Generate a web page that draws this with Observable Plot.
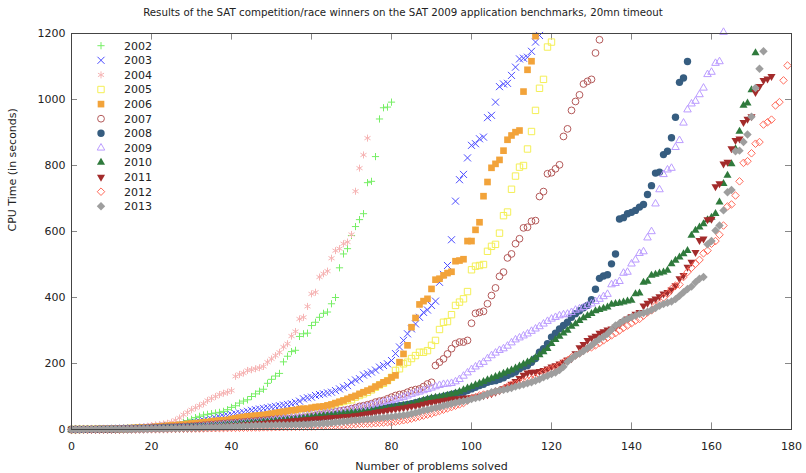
<!DOCTYPE html>
<html><head><meta charset="utf-8">
<script src="https://cdn.jsdelivr.net/npm/d3@7"></script>
<script src="https://cdn.jsdelivr.net/npm/@observablehq/plot@0.6"></script>
<style>
body{margin:0;background:#fff;font-family:"DejaVu Sans",sans-serif;}
#wrap{position:relative;width:806px;height:473px;background:#fff;}
#title{height:22px;line-height:24px;text-align:center;font-size:10.25px;color:#222;white-space:nowrap;}
</style></head><body>
<div id="wrap"><div id="title">Results of the SAT competition/race winners on the SAT 2009 application benchmarks, 20mn timeout</div><div id="chart"></div></div>
<script>
const years = [2002,2003,2004,2005,2006,2007,2008,2009,2010,2011,2012,2013];
const xTicks = [0,20,40,60,80,100,120,140,160,180];
const yTicks = [0,200,400,600,800,1000,1200];

// CPU time (s) of the i-th solved problem, i = 0..N
const t2002 = [0.05,0.1,0.2,0.3,0.4,0.5,0.6,0.8,1,1.2,1.5,
 1.8,2,2.3,2.6,3,3.5,4,4.5,5,6,
 7,8,9,10,12,14,17,22,27,31,
 36,40,44,46,48,50,52,55,60,67,
 72,80,86,90,100,108,116,122,140,152,
 162,170,205,222,236,240,282,290,292,315,
 325,340,352,356,381,400,490,532,548,588,
 615,636,654,748,752,827,941,975,977,992];
const t2003 = [0.1,0.2,0.3,0.4,0.5,0.7,0.9,1.1,1.3,1.6,
 2,2.4,2.8,3.2,3.7,4.2,5,6,7,7.5,
 8,9,10,11,12,12.5,13,14,15,17,
 19,21,24,27,29,31,34,37,40,42,
 45,48,50,52,55,58,60,62,64,66,
 68,70,72,74,76,78,82,86,93,96,
 98,103,106,108,111,113,118,123,128,133,
 143,150,154,165,169,174,180,189,194,199,
 209,230,250,270,290,305,320,340,355,362,
 376,389,446,470,497,575,692,757,773,823,
 861,866,881,886,945,952,992,1039,1047,1049,
 1073,1098,1123,1125,1128,1146,1174,1194];
const t2004 = [0.1,0.2,0.3,0.5,0.7,0.9,1.1,1.4,1.7,2,
 2,2.5,3,3.5,4,4.5,5.5,7,8,10,
 12,14,15,17,19,22,28,35,45,52,
 60,66,72,78,88,94,100,106,110,113,
 118,161,167,171,179,181,184,187,191,204,
 214,224,234,250,260,283,297,335,340,373,
 411,416,462,472,480,519,542,548,563,568,
 591,722,792,832,883];
const t2005 = [0.1,0.2,0.3,0.4,0.5,0.6,0.8,1,1.2,1.4,
 1.7,2,2.3,2.6,3,3.4,3.8,4.2,4.6,5,
 5.5,6,7,8,9,10,11,12,13,14,
 15,16,17,18,19,20,21,22,23,24,
 25,26,27,28,29,30,31,32,33,34,
 35,36,38,40,42,44,46,49,52,58,
 60,62,65,68,70,73,78,82,85,88,
 90,98,103,108,113,120,128,135,140,148,
 158,179,184,199,204,215,224,234,234,239,
 255,270,303,325,327,348,376,386,396,418,
 484,495,497,500,540,555,561,595,648,659,
 728,768,795,800,850,903,967,1034,1061,1159,1174];
const t2006 = [0.1,0.2,0.3,0.4,0.5,0.6,0.8,1,1.2,1.5,
 1.8,2.1,2.5,3,3.5,4,4.5,5,5.5,6,
 7,8,9,10,11,12,13,14,15,17,
 18,19,20,22,23,25,26,27,28,29,
 32,34,36,38,40,41,42,43,44,46,
 48,50,52,54,56,58,59,62,63,63,
 66,68,69,70,73,76,80,84,88,93,
 98,102,108,113,118,123,130,136,143,148,
 158,164,204,229,255,310,338,379,389,396,
 426,454,457,467,474,478,510,512,516,571,
 571,605,628,707,750,793,805,817,845,878,
 891,901,906,1024,1090,1116,1192];
const t2007 = [0.1,0.2,0.3,0.4,0.5,0.6,0.7,0.9,1.1,1.3,
 1.5,1.8,2.1,2.4,2.7,3,3.4,3.8,4.2,4.6,
 5,5.5,6,6.5,7,7.5,8,8.5,9,9.5,
 10,11,12,13,14,15,16,17,18,19,
 20,21,22,23,24,25,26,27,28,29,
 30,31,32,32,33,34,34,35,36,37,
 39,42,45,46,48,50,53,56,58,60,
 63,66,70,72,75,78,83,86,88,93,
 98,103,106,108,113,118,121,123,130,138,
 143,194,204,214,229,245,260,265,265,270,
 322,352,355,358,381,406,429,464,477,520,
 532,563,578,611,613,631,633,706,721,775,
 778,790,802,888,911,967,994,1014,1047,1055,1061,1141,1181];
const t2008 = [0.1,0.2,0.2,0.3,0.3,0.4,0.5,0.6,0.7,0.8,
 0.9,1,1.2,1.4,1.6,1.8,2,2.3,2.6,3,
 3.3,3.6,4,4.4,4.8,5.2,5.6,6,6.5,7,
 7.5,8,8.5,9,9.5,10,11,12,13,14,
 15,16,17,18,19,20,21,22,23,24,
 25,26,27,28,29,30,31,32,33,34,
 35,36,37,38,40,42,44,45,46,47,
 48,50,52,54,56,58,60,62,64,66,
 68,70,72,74,76,78,81,84,87,90,
 93,95,97,100,103,106,109,111,113,118,
 123,128,133,137,143,146,148,152,157,164,
 169,174,184,190,194,204,215,234,245,260,
 280,292,305,315,325,340,351,360,369,376,
 393,425,458,465,469,502,532,638,642,654,
 658,664,674,682,712,739,777,780,833,843,
 884,946,1052,1065,1115];
const t2009 = [0.1,0.2,0.2,0.3,0.3,0.4,0.4,0.5,0.6,0.7,
 0.8,0.9,1,1.1,1.2,1.4,1.6,1.8,2,2.2,
 2.5,2.8,3.1,3.4,3.7,4,4.5,5,5.5,6,
 6.5,7,8,9,10,11,12,13,14,15,
 16,17,18,19,20,21,22,23,24,25,
 27,29,30,32,33,35,36,38,40,42,
 44,45,47,48,50,51,53,55,56,58,
 60,63,65,68,70,74,77,80,83,86,
 88,91,95,98,102,107,111,114,118,122,
 126,130,134,137,138,140,145,152,162,172,
 182,190,197,204,215,224,232,240,245,253,
 263,272,278,284,290,298,305,312,320,328,
 335,340,345,348,350,355,362,366,370,376,
 381,388,395,403,410,439,443,449,474,477,
 502,514,534,539,581,600,684,727,773,787,
 792,855,876,929,969,987,995,1015,1035,1076,
 1083,1110,1115,1204];
const t2010 = [0.1,0.1,0.2,0.2,0.3,0.3,0.4,0.4,0.5,0.6,
 0.7,0.8,0.9,1,1.1,1.2,1.4,1.6,1.8,2,
 2.2,2.5,2.8,3.1,3.4,3.8,4.2,4.6,5,5.5,
 6,6.5,7,7.5,8,9,10,11,12,13,
 14,15,16,17,18,19,20,21,22,23,
 24,25,26,27,28,29,30,31,33,35,
 37,39,40,41,42,43,44,45,47,49,
 50,51,52,53,54,56,58,60,62,64,
 66,68,70,72,74,76,80,84,88,92,
 95,97,99,101,103,106,110,115,120,125,
 130,135,140,145,150,155,160,165,170,175,
 180,186,192,198,204,210,218,226,235,245,
 260,272,282,292,300,312,320,330,338,345,
 351,359,363,367,371,379,381,383,386,389,
 391,411,413,446,449,467,470,474,477,482,
 502,512,522,532,542,588,603,613,623,635,
 643,654,689,745,770,805,850,903,982,989,1029,1141];
const t2011 = [0.1,0.1,0.2,0.2,0.3,0.3,0.4,0.4,0.5,0.5,
 0.6,0.7,0.8,0.9,1,1.1,1.2,1.4,1.6,1.8,
 2,2.2,2.4,2.7,3,3.3,3.6,4,4.4,4.8,
 5.2,5.6,6,6.5,7,7.5,8,8.5,9,10,
 11,12,13,14,15,16,17,18,19,20,
 21,22,23,24,25,26,27,28,29,30,
 31,32,33,34,35,36,37,38,39,40,
 41,42,44,46,48,50,52,54,56,58,
 60,62,64,66,68,70,72,74,77,80,
 82,84,86,88,90,92,93,94,95,96,
 97,99,101,103,106,109,113,118,124,130,
 138,146,155,165,172,174,174,176,179,184,
 190,194,199,204,211,215,230,248,258,270,
 278,283,292,297,302,305,310,318,328,335,
 342,350,355,375,383,391,396,403,411,416,
 423,436,457,467,492,507,537,573,578,636,
 638,736,745,805,810,851,876,881,931,941,
 948,1022,1040,1058,1063,1070];
const t2012 = [0.1,0.1,0.1,0.2,0.2,0.2,0.3,0.3,0.3,0.4,
 0.4,0.5,0.5,0.6,0.6,0.7,0.8,0.9,1,1.1,
 1.2,1.3,1.4,1.5,1.6,1.8,2,2.2,2.4,2.6,
 2.8,3,3.2,3.4,3.6,3.8,4,4.2,4.4,4.6,
 4.8,5,5.2,5.4,5.6,5.8,6,6.2,6.5,6.8,
 7,7.2,7.4,7.6,7.8,8,8.2,8.4,8.6,8.8,
 9,9.5,10,10.5,11,11.5,12,12.5,13,14,
 15,16,17,17.5,18,18.5,19,20,21,22,
 22,24,26,28,30,33,36,39,42,45,
 48,52,56,60,64,68,72,76,80,88,
 95,98,103,106,108,110,116,118,123,130,
 136,138,143,145,148,152,156,165,174,179,
 184,189,194,204,209,219,224,231,239,245,
 249,255,262,270,278,285,292,300,308,315,
 322,330,335,345,355,361,375,381,400,411,
 426,436,439,462,477,490,502,514,534,542,
 563,571,590,618,676,682,709,752,808,813,
 837,866,871,924,931,939,982,992,1058,1103];
const t2013 = [0.1,0.1,0.2,0.2,0.3,0.3,0.3,0.4,0.4,0.5,
 0.5,0.6,0.7,0.8,0.9,1,1.1,1.2,1.4,1.6,
 1.8,2,2.2,2.4,2.6,2.8,3,3.3,3.6,4,
 4.4,4.8,5.2,5.6,6,6.5,7,7.5,8,8.5,
 9,9.5,10,10.5,11,11.5,12,12,12.5,13,
 13,13.5,13.5,14,14,14,14.5,14.5,15,15,
 16,17,17,18,19,20,22,23,24,25,
 27,28,29,30,31,32,34,35,36,37,
 39,40,42,43,45,48,51,54,58,60,
 63,66,68,72,75,78,81,84,86,88,
 92,95,98,103,108,113,116,118,120,123,
 126,130,133,136,140,143,148,152,158,163,
 168,173,180,190,205,215,224,230,238,246,
 255,265,274,281,290,302,315,322,330,335,
 340,345,350,353,357,362,368,375,380,384,
 388,395,405,416,426,433,446,457,462,561,
 571,603,618,664,719,726,843,845,871,894,
 948,1035,1093,1146];

const seriesTimes = [t2002,t2003,t2004,t2005,t2006,t2007,t2008,t2009,t2010,t2011,t2012,t2013];

const triangleDown = {
  draw(ctx, size) {
    const s3 = Math.sqrt(3);
    const y = -Math.sqrt(size / (s3 * 3));
    ctx.moveTo(0, -y * 2);
    ctx.lineTo(-s3 * y, y);
    ctx.lineTo(s3 * y, y);
    ctx.closePath();
  }
};
const styles = [
  {symbol: d3.symbolPlus, stroke: "#77ee66", fill: "none", r: 2.45},
  {symbol: d3.symbolTimes, stroke: "#4a4aff", fill: "none", r: 3.3},
  {symbol: d3.symbolAsterisk, stroke: "#f6b4b4", fill: "none", r: 3.3},
  {symbol: d3.symbolSquare, stroke: "#f4ef55", fill: "none", r: 3.6},
  {symbol: d3.symbolSquare, stroke: "none", fill: "#f2a33a", r: 3.75},
  {symbol: d3.symbolCircle, stroke: "#b45a5a", fill: "none", r: 3.4},
  {symbol: d3.symbolCircle, stroke: "none", fill: "#365d80", r: 3.7},
  {symbol: d3.symbolTriangle, stroke: "#bb9cff", fill: "none", r: 2.8},
  {symbol: d3.symbolTriangle, stroke: "none", fill: "#2f7a3c", r: 3.0},
  {symbol: triangleDown, stroke: "none", fill: "#a32b2b", r: 3.0},
  {symbol: d3.symbolDiamond2, stroke: "#ff6a5a", fill: "none", r: 3.4},
  {symbol: d3.symbolDiamond2, stroke: "none", fill: "#9e9e9e", r: 3.8}
];

const dotMarks = years.map((yr, k) => {
  const data = seriesTimes[k].map((t, i) => ({year: yr, solved: i, t}));
  const s = styles[k];
  return Plot.dot(data, {x: "solved", y: "t", symbol: s.symbol, r: s.r,
    fill: s.fill, stroke: s.stroke, strokeWidth: 1});
});

const chart = Plot.plot({
  width: 806, height: 451,
  marginLeft: 71, marginRight: 15, marginTop: 11, marginBottom: 44,
  style: {fontFamily: "DejaVu Sans", fontSize: "11px", color: "#222", background: "#fff", overflow: "visible"},
  x: {domain: [0, 180]},
  y: {domain: [0, 1200]},
  marks: [
    Plot.axisX(xTicks, {tickSize: 0, tickPadding: 13, label: null, fontSize: 11, tickFormat: d => String(d)}),
    Plot.axisY(yTicks, {tickSize: 0, tickPadding: 6, label: null, fontSize: 11, tickFormat: d => String(d)}),
    Plot.ruleX(xTicks, {x: d => d, y1: 0, y2: 20, stroke: "#888"}),
    Plot.ruleX(xTicks, {x: d => d, y1: 1180, y2: 1200, stroke: "#888"}),
    Plot.ruleY(yTicks, {y: d => d, x1: 0, x2: 1.5, stroke: "#888"}),
    Plot.ruleY(yTicks, {y: d => d, x1: 178.5, x2: 180, stroke: "#888"}),
    ...dotMarks,
    Plot.frame({stroke: "#444"}),
    Plot.text(["Number of problems solved"], {frameAnchor: "bottom", dy: 40, fontSize: 11, fill: "#222"}),
    Plot.text(["CPU Time (in seconds)"], {frameAnchor: "left", rotate: -90, dx: -59, fontSize: 11, fill: "#222"})
  ]
});
document.getElementById("chart").appendChild(chart);

// legend (inside plot, top-left, gnuplot style)
const svg = d3.select(chart);
const lg = svg.append("g").attr("font-family", "DejaVu Sans").attr("font-size", 11).attr("text-anchor", "start");
years.forEach((yr, k) => {
  const s = styles[k];
  const cy = 23.7 + 14.6 * k;
  lg.append("path")
    .attr("transform", `translate(101,${cy})`)
    .attr("d", d3.symbol(s.symbol, Math.PI * s.r * s.r)())
    .attr("fill", s.fill).attr("stroke", s.stroke).attr("stroke-width", 1);
  lg.append("text").attr("x", 124).attr("y", cy).attr("dy", "0.35em").attr("fill", "#222").text(yr);
});
</script>
</body></html>
